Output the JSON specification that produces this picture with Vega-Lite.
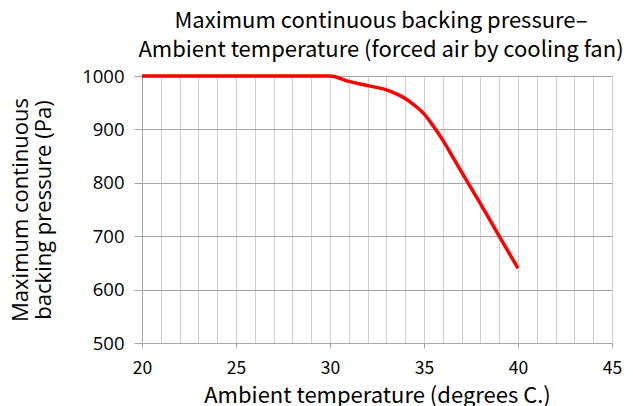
{
  "$schema": "https://vega.github.io/schema/vega-lite/v6.json",
  "width": 470,
  "height": 267,
  "autosize": {"type": "none"},
  "padding": {"left": 142, "top": 76, "right": 21, "bottom": 63},
  "background": "white",
  "title": {
    "text": ["Maximum continuous backing pressure–\u00a0\u00a0\u00a0\u00a0\u00a0\u00a0\u00a0\u00a0\u00a0\u00a0\u00a0\u00a0\u00a0\u00a0\u00a0\u00a0\u00a0", "Ambient temperature (forced air by cooling fan)"],
    "font": "Noto Sans CJK JP",
    "fontSize": 22,
    "fontWeight": "normal",
    "color": "#000000",
    "anchor": "middle",
    "frame": "group",
    "dx": 4,
    "offset": 5,
    "lineHeight": 29
  },
  "data": {
    "values": [
      {"t": 20, "p": 1000},
      {"t": 25, "p": 1000},
      {"t": 30, "p": 1000},
      {"t": 31, "p": 990},
      {"t": 32, "p": 982},
      {"t": 33, "p": 974},
      {"t": 33.5, "p": 967},
      {"t": 34, "p": 958},
      {"t": 34.5, "p": 945},
      {"t": 35, "p": 929},
      {"t": 35.5, "p": 906},
      {"t": 36, "p": 880},
      {"t": 36.5, "p": 850},
      {"t": 37, "p": 820},
      {"t": 38, "p": 761},
      {"t": 39, "p": 700},
      {"t": 40, "p": 640}
    ]
  },
  "layer": [
    {
      "mark": {"type": "line", "strokeOpacity": 0, "clip": false},
      "encoding": {
        "x": {
          "field": "t",
          "type": "quantitative",
          "scale": {"domain": [20, 45], "nice": false, "zero": false},
          "axis": {
            "orient": "bottom",
            "title": null,
            "values": [20,21,22,23,24,25,26,27,28,29,30,31,32,33,34,35,36,37,38,39,40,41,42,43,44,45],
            "labels": false,
            "ticks": false,
            "domain": false,
            "grid": true,
            "gridColor": "#d0d0d0",
            "gridWidth": 1
          }
        },
        "y": {
          "field": "p",
          "type": "quantitative",
          "scale": {"domain": [500, 1000], "nice": false, "zero": false},
          "axis": {
            "title": ["Maximum continuous", "backing pressure (Pa)"],
            "titleFont": "Open Sans",
            "titleFontSize": 22,
            "titleFontWeight": "normal",
            "titleColor": "#000000",
            "titleLineHeight": 23,
            "titlePadding": 26,
            "values": [500, 600, 700, 800, 900, 1000],
            "format": "d",
            "labelFont": "Open Sans",
            "labelFontSize": 18.5,
            "labelColor": "#000000",
            "labelPadding": 10,
            "labelFlush": false,
            "grid": true,
            "gridColor": "#a6a6a6",
            "domainColor": "#a6a6a6",
            "tickColor": "#a6a6a6",
            "tickSize": 8
          }
        }
      }
    },
    {
      "mark": {"type": "line", "color": "#ff0000", "strokeWidth": 3.5, "interpolate": "monotone", "clip": false},
      "encoding": {
        "x": {
          "field": "t",
          "type": "quantitative",
          "scale": {"domain": [20, 45], "nice": false, "zero": false},
          "axis": {
            "orient": "bottom",
            "title": "Ambient temperature (degrees C.)",
            "titleFont": "Noto Sans CJK JP",
            "titleFontSize": 22,
            "titleFontWeight": "normal",
            "titleColor": "#000000",
            "titlePadding": 9,
            "values": [20, 25, 30, 35, 40, 45],
            "labelFont": "Noto Sans CJK JP",
            "labelFontSize": 17.5,
            "labelColor": "#000000",
            "labelPadding": 11,
            "labelFlush": false,
            "labelOverlap": false,
            "grid": false,
            "domainColor": "#a6a6a6",
            "tickColor": "#a6a6a6",
            "tickSize": 5
          }
        },
        "y": {
          "field": "p",
          "type": "quantitative",
          "scale": {"domain": [500, 1000], "nice": false, "zero": false},
          "axis": {
            "title": ["Maximum continuous", "backing pressure (Pa)"],
            "titleFont": "Open Sans",
            "titleFontSize": 22,
            "titleFontWeight": "normal",
            "titleColor": "#000000",
            "titleLineHeight": 23,
            "titlePadding": 26,
            "values": [500, 600, 700, 800, 900, 1000],
            "format": "d",
            "labelFont": "Open Sans",
            "labelFontSize": 18.5,
            "labelColor": "#000000",
            "labelPadding": 10,
            "labelFlush": false,
            "grid": true,
            "gridColor": "#a6a6a6",
            "domainColor": "#a6a6a6",
            "tickColor": "#a6a6a6",
            "tickSize": 8
          }
        }
      }
    }
  ],
  "resolve": {"axis": {"x": "independent"}},
  "config": {"view": {"stroke": null}}
}
